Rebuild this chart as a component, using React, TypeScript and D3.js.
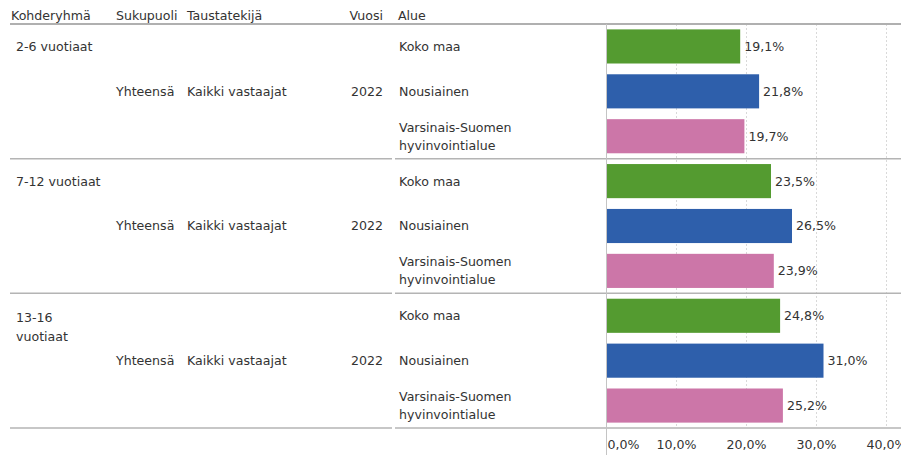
import React from "react";
import * as d3 from "d3";

const ageGroups = ["2-6 vuotiaat", "7-12 vuotiaat", "13-16 vuotiaat"];
const ageGroupLines = [["2-6 vuotiaat"], ["7-12 vuotiaat"], ["13-16", "vuotiaat"]];
const regions = ["Koko maa", "Nousiainen", "Varsinais-Suomen hyvinvointialue"];
const regionLines = [["Koko maa"], ["Nousiainen"], ["Varsinais-Suomen", "hyvinvointialue"]];
const kokoMaa = [19.1, 23.5, 24.8];
const nousiainen = [21.8, 26.5, 31.0];
const varsinaisSuomi = [19.7, 23.9, 25.2];
const seriesValues = [kokoMaa, nousiainen, varsinaisSuomi];
const regionColors = ["#549b30", "#2e5fab", "#cc76a8"];
const sukupuoli = "Yhteensä";
const taustatekija = "Kaikki vastaajat";
const vuosi = "2022";
const headers = ["Kohderyhmä", "Sukupuoli", "Taustatekijä", "Vuosi", "Alue"];
const ticks = [0, 10, 20, 30, 40];

const W = 901;
const H = 455;
const FONT = "'DejaVu Sans', 'Open Sans', sans-serif";
const TXT = "#333333";
const FS = 12.6;

export default function App() {
  const x = d3.scaleLinear().domain([0, 40]).range([606.5, 886.5]);
  const yPanel = d3.scaleBand<string>().domain(ageGroups).range([24, 428]);
  const ph = yPanel.bandwidth();
  const yRow = d3
    .scaleBand<string>()
    .domain(regions)
    .range([0, ph])
    .paddingInner(0.24)
    .paddingOuter(0.12);
  const fmt = (v: number) => v.toFixed(1).replace(".", ",") + "%";

  return (
    <svg
      width={W}
      height={H}
      style={{ position: "absolute", left: 0, top: 0, fontFamily: FONT }}
    >
      <rect width={W} height={H} fill="#fff" />
      {ticks.slice(1).map((t) => (
        <line
          key={"g" + t}
          x1={x(t)}
          x2={x(t)}
          y1={24}
          y2={428}
          stroke="#d9d9d9"
          strokeWidth={1}
          strokeDasharray="2,2"
        />
      ))}
      <g fontSize={FS} fill={TXT}>
        <text x={11} y={20}>{headers[0]}</text>
        <text x={116} y={20}>{headers[1]}</text>
        <text x={187} y={20}>{headers[2]}</text>
        <text x={383} y={20} textAnchor="end">{headers[3]}</text>
        <text x={398} y={20}>{headers[4]}</text>
      </g>
      <line x1={10} x2={W} y1={24} y2={24} stroke="#b0b0b0" strokeWidth={2} />

      {ageGroups.map((ag, i) => {
        const py = yPanel(ag) as number;
        return (
          <g key={ag}>
            {regions.map((r, j) => {
              const ry = py + (yRow(r) as number);
              const v = seriesValues[j][i];
              const cy = ry + yRow.bandwidth() / 2;
              const lines = regionLines[j];
              return (
                <g key={r}>
                  <rect
                    x={x(0)}
                    y={ry}
                    width={x(v) - x(0)}
                    height={yRow.bandwidth()}
                    fill={regionColors[j]}
                  />
                  <text x={x(v) + 4} y={cy} dy="0.35em" fontSize={FS} fill={TXT}>
                    {fmt(v)}
                  </text>
                  {lines.map((ln, k) => (
                    <text
                      key={k}
                      x={399}
                      y={cy + (k - (lines.length - 1) / 2) * 18}
                      dy="0.35em"
                      fontSize={FS}
                      fill={TXT}
                    >
                      {ln}
                    </text>
                  ))}
                </g>
              );
            })}
            {ageGroupLines[i].map((ln, k) => (
              <text
                key={k}
                x={16}
                y={py + (yRow(regions[0]) as number) + yRow.bandwidth() / 2 + (ageGroupLines[i].length > 1 ? 2 : 0) + k * 19}
                dy="0.35em"
                fontSize={FS}
                fill={TXT}
              >
                {ln}
              </text>
            ))}
            <g fontSize={FS} fill={TXT}>
              <text x={116} y={py + ph / 2} dy="0.35em">{sukupuoli}</text>
              <text x={187} y={py + ph / 2} dy="0.35em">{taustatekija}</text>
              <text x={383} y={py + ph / 2} dy="0.35em" textAnchor="end">{vuosi}</text>
            </g>
            <line x1={10} x2={392} y1={py + ph} y2={py + ph} stroke="#b4b4b4" strokeWidth={1.5} />
            <line x1={395} x2={W} y1={py + ph} y2={py + ph} stroke="#b4b4b4" strokeWidth={1.5} />
          </g>
        );
      })}

      <line x1={x(0)} x2={x(0)} y1={24} y2={H} stroke="#c4c4c4" strokeWidth={1} />
      {ticks.map((t, i) => (
        <text
          key={"t" + t}
          x={i === 0 ? x(t) + 1 : x(t)}
          y={445}
          dy="0.35em"
          fontSize={FS}
          fill={TXT}
          textAnchor={i === 0 ? "start" : "middle"}
        >
          {fmt(t)}
        </text>
      ))}
    </svg>
  );
}
